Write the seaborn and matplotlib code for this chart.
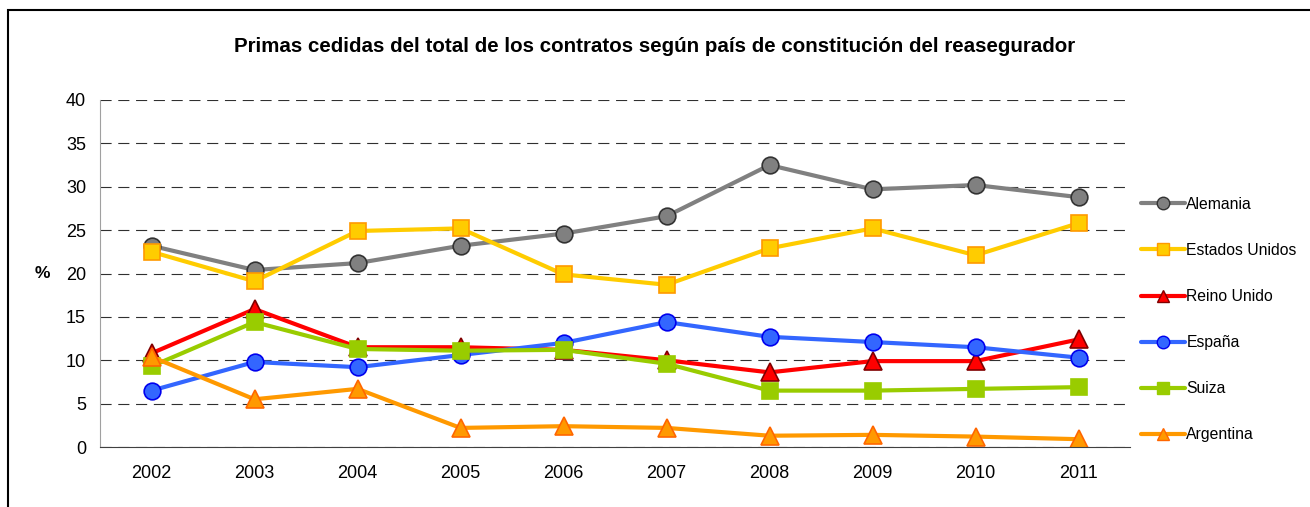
import matplotlib
matplotlib.use("Agg")
import matplotlib.pyplot as plt
import seaborn as sns
import pandas as pd
from matplotlib.patches import Rectangle
from matplotlib.lines import Line2D

# Data
years = ["2002", "2003", "2004", "2005", "2006", "2007", "2008", "2009", "2010", "2011"]
alemania = [23.2, 20.4, 21.2, 23.2, 24.6, 26.6, 32.5, 29.7, 30.2, 28.8]
estados_unidos = [22.5, 19.1, 24.9, 25.2, 19.9, 18.7, 22.9, 25.2, 22.1, 25.8]
reino_unido = [10.8, 15.9, 11.5, 11.5, 11.2, 10.0, 8.6, 9.9, 9.9, 12.4]
espana = [6.5, 9.8, 9.2, 10.6, 12.0, 14.4, 12.7, 12.1, 11.5, 10.3]
suiza = [9.3, 14.4, 11.3, 11.1, 11.2, 9.6, 6.5, 6.5, 6.7, 6.9]
argentina = [10.4, 5.5, 6.7, 2.2, 2.4, 2.2, 1.3, 1.4, 1.2, 0.9]

series = {
    "Alemania": alemania,
    "Estados Unidos": estados_unidos,
    "Reino Unido": reino_unido,
    "España": espana,
    "Suiza": suiza,
    "Argentina": argentina,
}

# line colour, marker, marker face, marker edge
styles = {
    "Alemania": ("#808080", "o", "#808080", "#333333"),
    "Estados Unidos": ("#FFCC00", "s", "#FFCC00", "#FF9900"),
    "Reino Unido": ("#FF0000", "^", "#FF0000", "#800000"),
    "España": ("#3366FF", "o", "#3366FF", "#0000EE"),
    "Suiza": ("#99CC00", "s", "#99CC00", "#99CC00"),
    "Argentina": ("#FF9900", "^", "#FF9900", "#FF6600"),
}

rows = []
for name, vals in series.items():
    for y, v in zip(years, vals):
        rows.append({"Año": y, "Valor": v, "País": name})
df = pd.DataFrame(rows)

sns.set_style("white")
plt.rcParams["font.family"] = ["Liberation Sans", "DejaVu Sans"]
plt.rcParams["text.color"] = "black"
plt.rcParams["xtick.color"] = "black"
plt.rcParams["ytick.color"] = "black"
plt.rcParams["axes.labelcolor"] = "black"

fig = plt.figure(figsize=(13.1, 5.07), dpi=100)
ax = fig.add_axes([100 / 1310, 1 - 447 / 507, 1030 / 1310, 347 / 507])

for name in series:
    col, mk, fc, ec = styles[name]
    sub = df[df["País"] == name]
    sns.lineplot(data=sub, x="Año", y="Valor", ax=ax, color=col, linewidth=3,
                 marker=mk, markersize=12 if mk != "^" else 13,
                 markerfacecolor=fc, markeredgecolor=ec, markeredgewidth=1.2,
                 sort=False)

ax.set_xlim(-0.5, len(years) - 0.5)
ax.set_ylim(0, 40)
ax.set_yticks(range(0, 41, 5))
ax.yaxis.grid(True, color="#303030", linestyle=(0, (10, 6)), linewidth=0.8)
ax.set_axisbelow(True)
ax.set_xlabel("")
ax.set_ylabel("%", fontsize=12.5, fontweight="bold", rotation=0, labelpad=17, va="center")
ax.tick_params(axis="x", labelsize=13, length=0, pad=13)
ax.tick_params(axis="y", labelsize=13, length=6, color="#a0a0a0", direction="out", pad=4)
ax.set_xticks(range(len(years)))
ax.set_xticklabels(years)

for s in ["top", "right"]:
    ax.spines[s].set_visible(False)
ax.spines["left"].set_color("#a0a0a0")
ax.spines["bottom"].set_color("#404040")

fig.text(655 / 1310, 1 - 47 / 507,
         "Primas cedidas del total de los contratos según país de constitución del reasegurador",
         fontsize=14.8, fontweight="bold", ha="center", va="center")

handles = []
for name in series:
    col, mk, fc, ec = styles[name]
    handles.append(Line2D([], [], color=col, linewidth=3, marker=mk, markersize=9,
                          markerfacecolor=fc, markeredgecolor=ec, markeredgewidth=1))
fig.legend(handles, list(series.keys()), loc="upper left",
           bbox_to_anchor=(1133 / 1310, 1 - 189 / 507),
           frameon=False, fontsize=11.3, labelspacing=1.98, handlelength=2.8,
           handletextpad=0.1, borderpad=0)

fig.patches.append(Rectangle((8 / 1310, -0.1), 1.2, 1.1 - 10 / 507,
                             transform=fig.transFigure, fill=False, edgecolor="black",
                             linewidth=1.5))

fig.savefig("out.png", dpi=100)
